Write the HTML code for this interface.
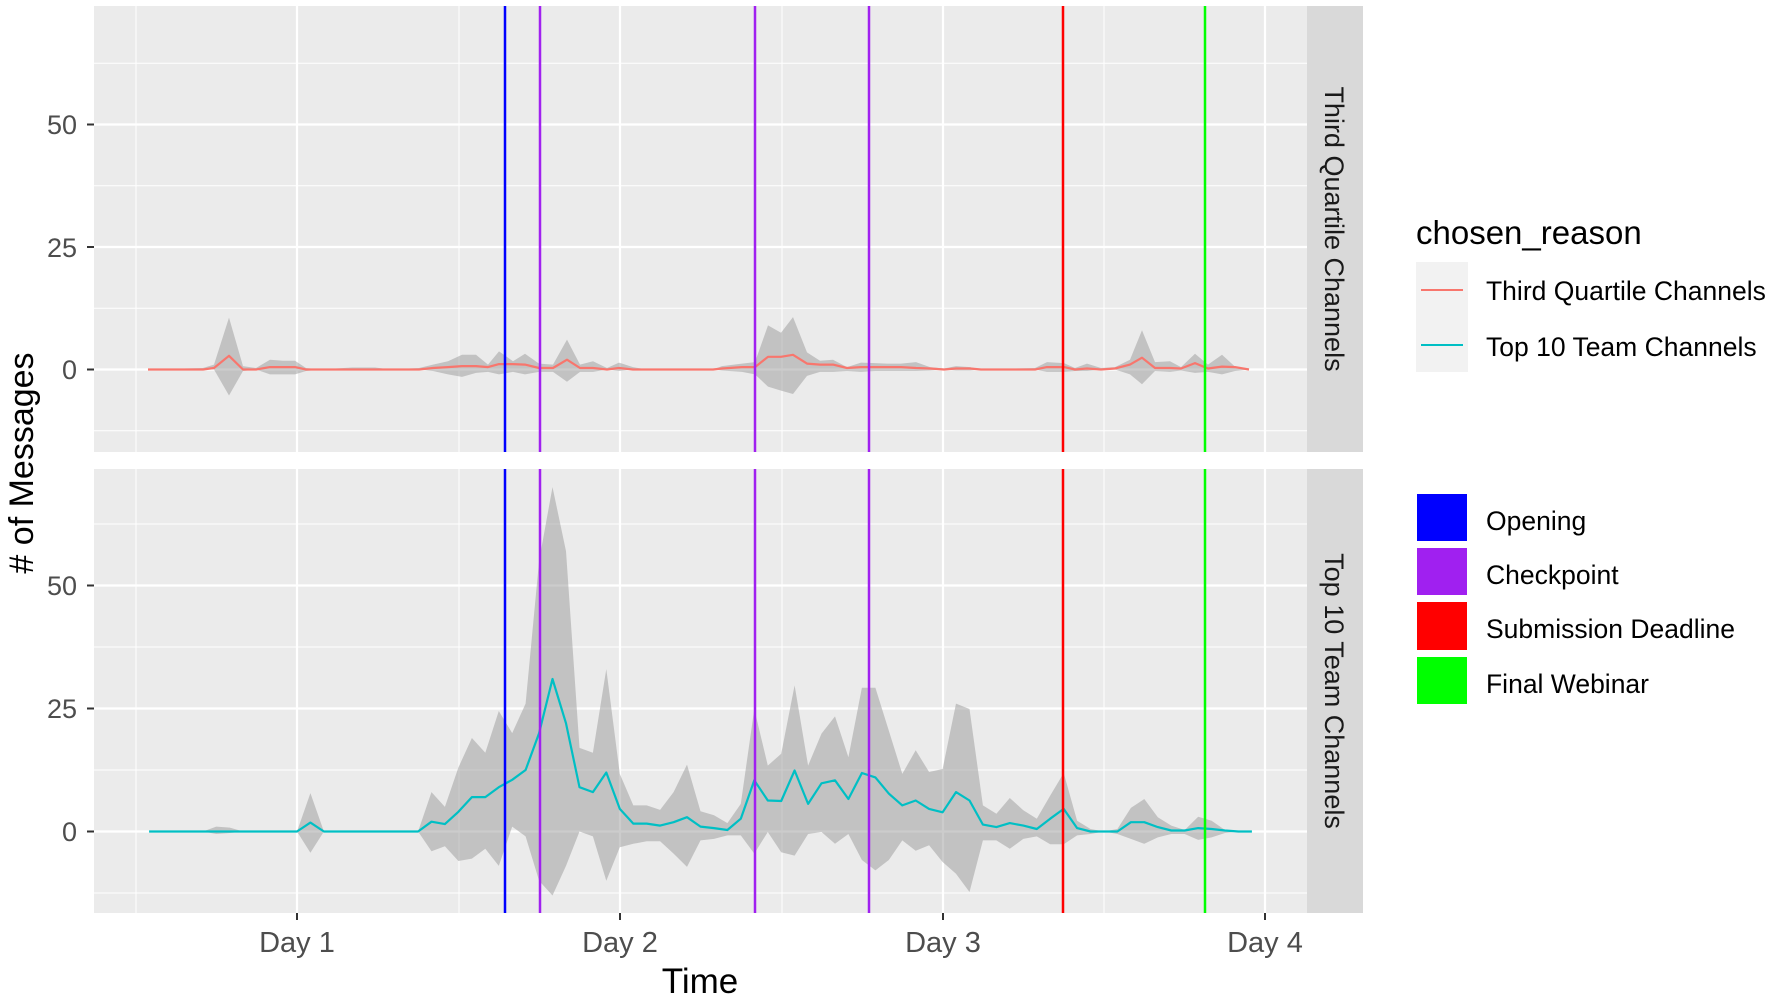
<!DOCTYPE html>
<html><head><meta charset="utf-8">
<style>
html,body{margin:0;padding:0;background:#fff;}
svg{display:block;font-family:"Liberation Sans",Arial,sans-serif;}
</style></head>
<body>
<svg id="s" width="1772" height="999" viewBox="0 0 1772 999" xmlns="http://www.w3.org/2000/svg">
<rect width="1772" height="999" fill="#fff"/>
<g id="g"></g>
<!-- strips -->
<rect x="1307" y="6" width="56" height="446" fill="#d9d9d9"/>
<rect x="1307" y="469" width="56" height="444" fill="#d9d9d9"/>
<text transform="translate(1325,229) rotate(90)" text-anchor="middle" font-size="27" fill="#1a1a1a">Third Quartile Channels</text>
<text transform="translate(1325,691) rotate(90)" text-anchor="middle" font-size="27" fill="#1a1a1a">Top 10 Team Channels</text>
<!-- y labels -->
<g font-size="27" fill="#4d4d4d" text-anchor="end">
<text x="77" y="134">50</text><text x="77" y="257">25</text><text x="77" y="379">0</text>
<text x="77" y="595">50</text><text x="77" y="718">25</text><text x="77" y="841">0</text>
</g>
<g stroke="#333" stroke-width="2">
<line x1="87" x2="94" y1="124.5" y2="124.5"/><line x1="87" x2="94" y1="247" y2="247"/><line x1="87" x2="94" y1="369.5" y2="369.5"/>
<line x1="87" x2="94" y1="585.5" y2="585.5"/><line x1="87" x2="94" y1="708.5" y2="708.5"/><line x1="87" x2="94" y1="831.5" y2="831.5"/>
<line x1="297" x2="297" y1="913" y2="920"/><line x1="620" x2="620" y1="913" y2="920"/><line x1="943" x2="943" y1="913" y2="920"/><line x1="1265" x2="1265" y1="913" y2="920"/>
</g>
<g font-size="29" fill="#4d4d4d" text-anchor="middle">
<text x="297" y="952">Day 1</text><text x="620" y="952">Day 2</text><text x="943" y="952">Day 3</text><text x="1265" y="952">Day 4</text>
</g>
<text x="700" y="993" font-size="35" text-anchor="middle" fill="#000">Time</text>
<text transform="translate(33,463) rotate(-90)" font-size="34" text-anchor="middle" fill="#000"># of Messages</text>
<!-- legend -->
<text x="1416" y="244" font-size="33" fill="#000">chosen_reason</text>
<rect x="1416" y="262" width="52" height="110" fill="#f2f2f2"/>
<line x1="1421" x2="1463" y1="290" y2="290" stroke="#F8766D" stroke-width="2"/>
<line x1="1421" x2="1463" y1="345" y2="345" stroke="#00BFC4" stroke-width="2"/>
<g font-size="26.5" fill="#000">
<text x="1486" y="300">Third Quartile Channels</text>
<text x="1486" y="356">Top 10 Team Channels</text>
<text x="1486" y="530">Opening</text>
<text x="1486" y="584">Checkpoint</text>
<text x="1486" y="638">Submission Deadline</text>
<text x="1486" y="693">Final Webinar</text>
</g>
<rect x="1417" y="494" width="50" height="47" fill="#0000ff"/>
<rect x="1417" y="548" width="50" height="47" fill="#a020f0"/>
<rect x="1417" y="602" width="50" height="48" fill="#ff0000"/>
<rect x="1417" y="657" width="50" height="47" fill="#00ff00"/>
</svg>
<script>
(function(){
var NS="http://www.w3.org/2000/svg",g=document.getElementById("g");
function el(t,a){var e=document.createElementNS(NS,t);for(var k in a)e.setAttribute(k,a[k]);g.appendChild(e);return e;}
var panels=[{t:6,b:452,z:369.5,k:4.9},{t:469,b:913,z:831.5,k:4.92}];
var L=94,R=1307;
panels.forEach(function(p){
  el("rect",{x:L,y:p.t,width:R-L,height:p.b-p.t,fill:"#ebebeb"});
  [-12.5,12.5,37.5,62.5].forEach(function(v){var y=p.z-v*p.k;el("line",{x1:L,x2:R,y1:y,y2:y,stroke:"#fff","stroke-width":1});});
  [136,459,782,1104].forEach(function(x){el("line",{x1:x,x2:x,y1:p.t,y2:p.b,stroke:"#fff","stroke-width":1});});
  [0,25,50].forEach(function(v){var y=p.z-v*p.k;el("line",{x1:L,x2:R,y1:y,y2:y,stroke:"#fff","stroke-width":2.2});});
  [297,620,943,1265].forEach(function(x){el("line",{x1:x,x2:x,y1:p.t,y2:p.b,stroke:"#fff","stroke-width":2.2});});
});
var red=[[148,0,0,0],[203,0,0.3,0],[214,0.3,1,0],[229,2.8,10.6,-5.3],[243,0,0.7,-0.3],[256,0,0.3,0],[270,0.5,2,-1],[283,0.5,1.8,-1],[295,0.5,1.8,-1],[306,0,0.3,-0.3],[320,0,0,0],[352,0,0.4,0],[375,0,0.4,0],[390,0,0,0],[419,0,0.3,0],
[433,0.3,1,-0.3],[448,0.5,1.7,-1],[462,0.7,3,-1.5],[476,0.7,3,-0.7],[488,0.5,1,-0.5],[499,1.1,3.7,-1],[513,1.1,1.7,-0.5],[525,1,3.2,-1],[539,0.3,1.2,-0.5],[553,0.3,1,-0.5],[567,2,6.1,-2.5],[580,0.3,1,-0.5],[593,0.3,1.7,-0.5],[607,0,0.3,0],[619,0.3,1.4,-0.3],[633,0,0.5,0],[647,0,0,0],[713,0,0,0],[722,0.2,0.7,-0.2],[742,0.5,1.2,-0.5],[755,0.5,1.5,-1],[768,2.6,9,-3.5],[781,2.6,7.5,-4.3],[793,3,10.7,-5],[807,1.2,3.5,-1.3],[820,1,1.8,-0.5],[833,1,2,-0.5],[847,0.3,0.5,-0.3],[861,0.5,1.4,-0.5],[875,0.5,1.3,-0.3],[887,0.5,1.2,-0.3],[901,0.5,1.2,-0.3],[916,0.3,1.5,-0.3],[930,0.2,0.5,-0.2],[944,0,0.2,0],[956,0.2,0.7,-0.2],[970,0.2,0.5,-0.2],[981,0,0,0],[1035,0,0.3,0],[1047,0.5,1.5,-0.5],[1064,0.5,1.3,-0.5],[1075,0,0.3,-0.3],[1087,0.2,1.2,-0.3],[1101,0,0.3,0],[1115,0.2,0.5,0],[1130,1,2,-1],[1142,2.4,8,-3],[1155,0.3,1.5,-0.3],[1170,0.3,1.7,-0.5],[1181,0.2,0.5,-0.2],[1195,1.3,3.2,-0.7],[1208,0.2,1,-0.5],[1222,0.6,3,-1],[1235,0.5,0.6,-0.3],[1249,0,0.2,0]];
var T={0:[0,0,0],5:[0,1,-0.5],6:[0,0.8,-0.3],7:[0,0,0],11:[0,0,0],12:[1.8,7.8,-4.3],13:[0,0,0],20:[0,0,0],
21:[2,8,-4],22:[1.5,5,-3],23:[4,13,-6],24:[7,19,-5.5],25:[7,16,-3.5],26:[9,24.5,-7],27:[10.5,20,1],28:[12.5,26,-1],29:[20,55,-10],30:[31,70,-13],31:[22,57,-7],32:[9,17,0],33:[8,16,-1],34:[12,33,-10],35:[4.6,11.7,-3.2],
36:[1.6,5.3,-2.5],37:[1.6,5.3,-2],38:[1.2,4.4,-2],39:[1.9,8,-4.5],40:[2.9,13.6,-7.2],41:[1,4.1,-1.8],42:[0.7,3.3,-1.5],43:[0.3,1.7,-0.8],44:[2.6,5.6,-0.8],45:[10.4,24.9,-4.5],46:[6.3,13.4,-0.1],47:[6.2,15.8,-4.2],48:[12.4,29.7,-4.9],49:[5.6,13.4,-0.5],50:[9.8,19.9,-0.1],51:[10.4,23.4,-2.5],52:[6.6,15.1,-0.5],53:[11.9,29.2,-5.8],54:[11,29.2,-7.9],55:[7.7,20.5,-5.8],56:[5.3,11.7,-1.8],57:[6.3,16.5,-3.9],58:[4.6,12.1,-2.8],59:[3.9,12.7,-6.2],
60:[8,26,-8.6],61:[6.3,24.9,-12.3],62:[1.4,5.3,-1.8],63:[0.9,3.6,-1.8],64:[1.7,6.8,-3.5],65:[1.2,4.3,-1.5],66:[0.5,2.6,-1],67:[2.6,7.3,-2.6],68:[4.6,11.9,-2.6],69:[0.7,2.2,-0.8],70:[0,0.5,-0.5],71:[0,0,0],72:[0,0.5,-0.5],73:[1.9,4.8,-1.5],74:[1.9,6.6,-2.5],75:[0.9,2.9,-1.2],76:[0.2,1.2,-0.5],77:[0.2,0.3,-0.5],78:[0.7,3,-1.7],79:[0.5,2.2,-1.2],80:[0.2,0.3,-0.3],81:[0,0,0],82:[0,0,0]};
var teal=[];
for(var i=0;i<=82;i++){var d=T[i]||[0,0,0];teal.push([297+(i-11)*13.45,d[0],d[1],d[2]]);}
function draw(data,p,col){
  var up=data.map(function(d){return d[0].toFixed(1)+","+(p.z-d[2]*p.k).toFixed(1);});
  var lo=data.slice().reverse().map(function(d){return d[0].toFixed(1)+","+(p.z-d[3]*p.k).toFixed(1);});
  el("polygon",{points:up.concat(lo).join(" "),fill:"#999999","fill-opacity":0.5});
  el("polyline",{points:data.map(function(d){return d[0].toFixed(1)+","+(p.z-d[1]*p.k).toFixed(1);}).join(" "),fill:"none",stroke:col,"stroke-width":2.2,"stroke-linejoin":"round"});
}
draw(red,panels[0],"#F8766D");
draw(teal,panels[1],"#00BFC4");
var vl=[[505,"#0000ff"],[540,"#a020f0"],[755,"#a020f0"],[869,"#a020f0"],[1063,"#ff0000"],[1205,"#00ff00"]];
panels.forEach(function(p){vl.forEach(function(v){el("line",{x1:v[0],x2:v[0],y1:p.t,y2:p.b,stroke:v[1],"stroke-width":2.5});});});
})();
</script>
</body></html>
